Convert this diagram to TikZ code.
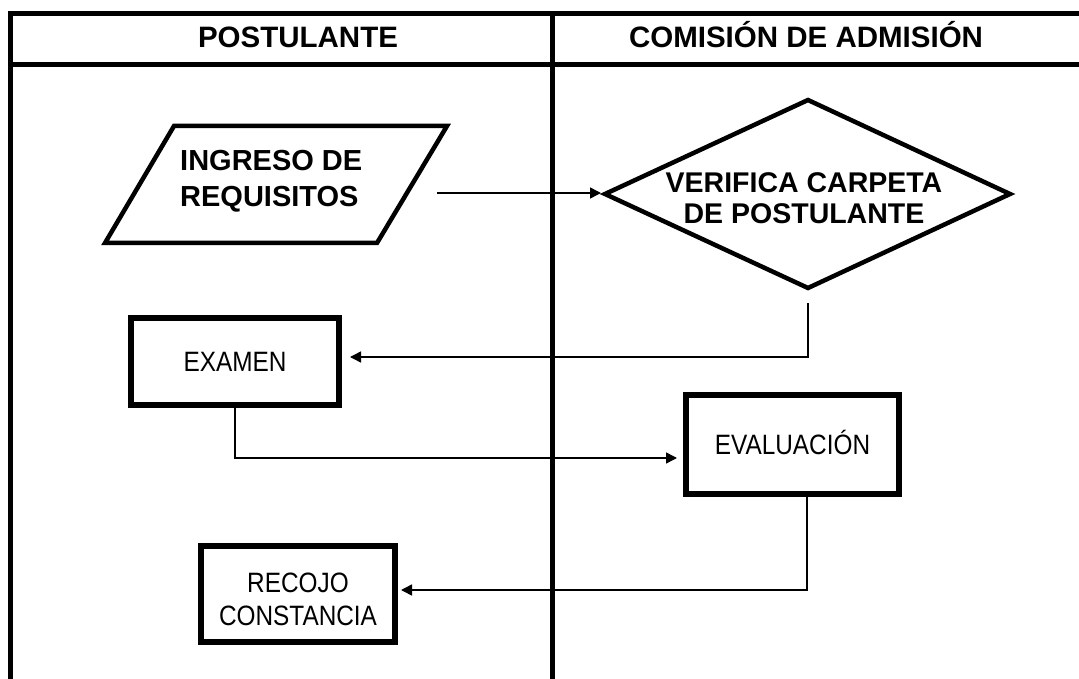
\documentclass[tikz,border=0pt]{standalone}
\usepackage{fontspec}
\setmainfont{Liberation Sans}
\newfontfamily\narrowfont{Liberation Sans}[FakeStretch=0.87]
\usetikzlibrary{arrows.meta}
\begin{document}
\begin{tikzpicture}[x=1pt,y=-1pt,
  frame/.style={line width=5pt},
  shapeline/.style={line width=4.5pt, line join=miter},
  procbox/.style={draw, line width=6pt, rectangle, inner sep=0pt, align=center,
    font=\narrowfont\fontsize{28}{33}\selectfont},
  conn/.style={line width=1.5pt, -{Triangle[length=11pt,width=11pt]}},
  bodybold/.style={font=\bfseries\fontsize{29}{36}\selectfont, inner sep=0pt},
  hdr/.style={font=\bfseries\fontsize{29.5}{32}\selectfont, inner sep=0pt}]
\useasboundingbox (0,0) rectangle (1079,679);
\fill[white] (0,0) rectangle (1079,679);
% frame
\draw[frame] (10.5,700) -- (10.5,13.5) -- (1100,13.5);
\draw[frame] (10.5,65) -- (1100,65);
\draw[frame] (552,13.5) -- (552,700);
% headers
\node[hdr, anchor=base] (hPost) at (298,48) {POSTULANTE};
\node[hdr, anchor=base] (hCom) at (806,48) {COMISIÓN DE ADMISIÓN};
% parallelogram
\coordinate (pTL) at (174,126);
\coordinate (pTR) at (447,126);
\coordinate (pBR) at (377,243);
\coordinate (pBL) at (105,243);
\draw[shapeline] (pTL) -- (pTR) -- (pBR) -- (pBL) -- cycle;
\node[bodybold, anchor=west, align=left] (ingTxt) at (180,181) {INGRESO DE\\REQUISITOS};
% diamond
\coordinate (dLeft) at (605,194);
\coordinate (dTop) at (808,100);
\coordinate (dRight) at (1010,194);
\coordinate (dBot) at (808,288);
\draw[shapeline] (dLeft) -- (dTop) -- (dRight) -- (dBot) -- cycle;
\node[inner sep=0pt, align=center, font=\bfseries\fontsize{28.5}{31}\selectfont] (verTxt) at (804,198) {VERIFICA CARPETA\\DE POSTULANTE};
% process boxes
\node[procbox, minimum width=208pt, minimum height=87pt] (exam) at (235,361.5) {EXAMEN};
\node[procbox, minimum width=213pt, minimum height=99pt, text height=20pt, text depth=0pt] (eval) at (792.5,444.5) {EVALUACIÓN};
\node[procbox, minimum width=194pt, minimum height=96pt] (rec) at (298,594) {\rule{0pt}{30pt}RECOJO\\CONSTANCIA};
% connectors
\coordinate (ingOut) at (437,193);
\coordinate (dIn) at (601,193);
\draw[conn] (ingOut) -- (dIn);
\coordinate (dOut) at (808,303);
\draw[conn] (dOut) |- ([yshift=4.5pt,xshift=8pt]exam.east);
\draw[conn] (exam.south) |- ([yshift=-13.5pt,xshift=-6pt]eval.west);
\draw[conn] ([xshift=14.5pt]eval.south) |- ([yshift=4pt,xshift=3pt]rec.east);
\end{tikzpicture}
\end{document}
